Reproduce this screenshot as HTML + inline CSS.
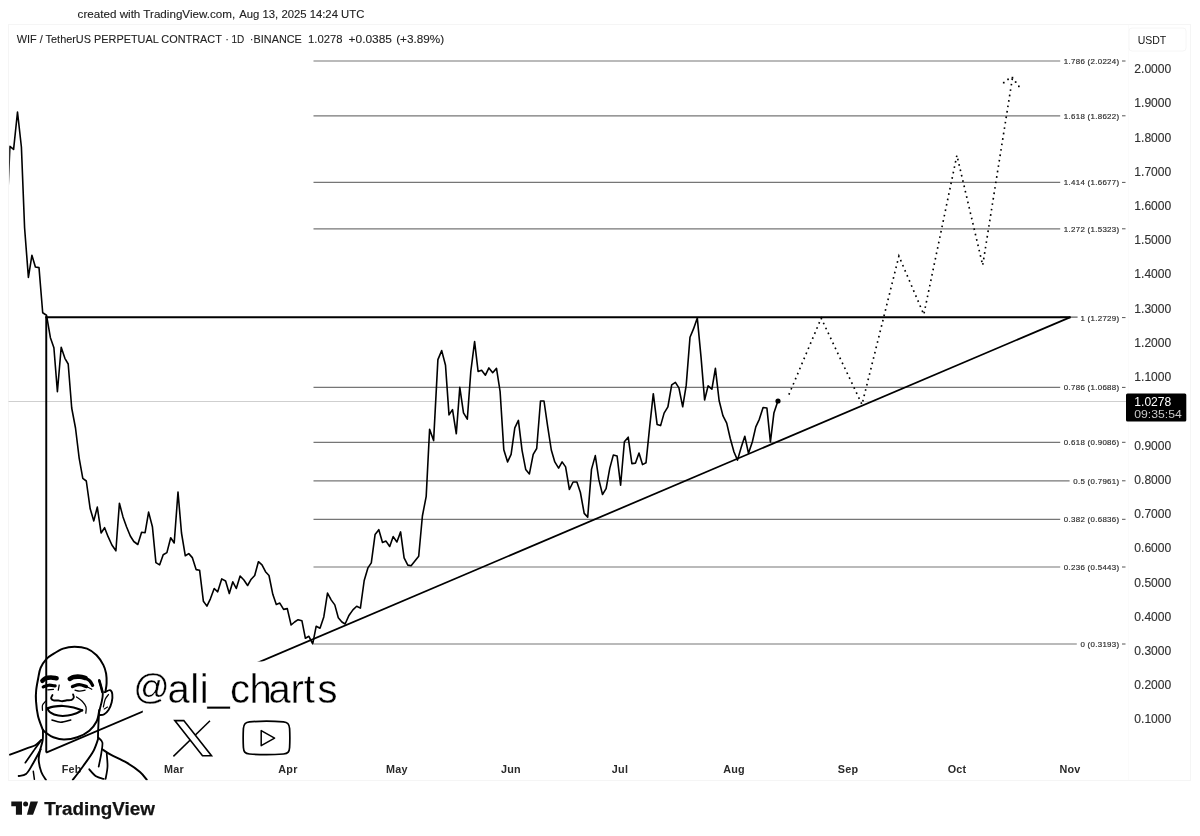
<!DOCTYPE html>
<html lang="en"><head><meta charset="utf-8"><title>WIF / TetherUS chart</title>
<style>
html,body{margin:0;padding:0;background:#fff;}
body{width:1200px;height:836px;overflow:hidden;font-family:"Liberation Sans",sans-serif;}
svg{display:block;}
text{font-family:"Liberation Sans",sans-serif;}
</style></head><body>
<svg width="1200" height="836" viewBox="0 0 1200 836">
<rect width="1200" height="836" fill="#fff"/>

<rect x="8.5" y="24.5" width="1182" height="756" fill="none" stroke="#f5f5f5" stroke-width="1"/>
<line x1="1128.5" y1="25" x2="1128.5" y2="780" stroke="#fbfbfb" stroke-width="1"/>
<text y="18.1" font-size="11.8" fill="#222" stroke="#222" stroke-width="0.12"><tspan x="77.6" textLength="157.6" lengthAdjust="spacingAndGlyphs">created with TradingView.com,</tspan><tspan x="239.3" textLength="125" lengthAdjust="spacingAndGlyphs">Aug 13, 2025 14:24 UTC</tspan></text>
<text x="16.8" y="43.2" font-size="11" fill="#222" stroke="#222" stroke-width="0.1" textLength="205.0" lengthAdjust="spacingAndGlyphs">WIF / TetherUS PERPETUAL CONTRACT</text>
<text x="225.2" y="43.2" font-size="11" fill="#222" stroke="#222" stroke-width="0.1">·</text>
<text x="231.4" y="43.2" font-size="11" fill="#222" stroke="#222" stroke-width="0.1" textLength="12.8" lengthAdjust="spacingAndGlyphs">1D</text>
<text x="249.7" y="43.2" font-size="11" fill="#222" stroke="#222" stroke-width="0.1">·</text>
<text x="253.6" y="43.2" font-size="11" fill="#222" stroke="#222" stroke-width="0.1" textLength="48.2" lengthAdjust="spacingAndGlyphs">BINANCE</text>
<text x="308.0" y="43.2" font-size="11" fill="#222" stroke="#222" stroke-width="0.1" textLength="34.4" lengthAdjust="spacingAndGlyphs">1.0278</text>
<text x="348.6" y="43.2" font-size="11" fill="#222" stroke="#222" stroke-width="0.1" textLength="43.4" lengthAdjust="spacingAndGlyphs">+0.0385</text>
<text x="396.2" y="43.2" font-size="11" fill="#222" stroke="#222" stroke-width="0.1" textLength="48.0" lengthAdjust="spacingAndGlyphs">(+3.89%)</text>
<rect x="1129" y="28" width="57" height="23" rx="3" fill="#fff" stroke="#f6f6f6"/>
<text x="1152" y="43.5" font-size="10.5" fill="#111" text-anchor="middle">USDT</text>
<line x1="8.5" y1="401.5" x2="1127" y2="401.5" stroke="#c6c6c6" stroke-width="0.85"/>
<line x1="313.5" y1="61.0" x2="1060.2" y2="61.0" stroke="#767676" stroke-width="1.2"/>
<line x1="313.5" y1="115.8" x2="1060.2" y2="115.8" stroke="#767676" stroke-width="1.2"/>
<line x1="313.5" y1="182.4" x2="1060.2" y2="182.4" stroke="#767676" stroke-width="1.2"/>
<line x1="313.5" y1="228.8" x2="1060.2" y2="228.8" stroke="#767676" stroke-width="1.2"/>
<line x1="313.5" y1="387.4" x2="1060.2" y2="387.4" stroke="#767676" stroke-width="1.2"/>
<line x1="313.5" y1="442.3" x2="1060.2" y2="442.3" stroke="#767676" stroke-width="1.2"/>
<line x1="313.5" y1="480.8" x2="1069.6" y2="480.8" stroke="#767676" stroke-width="1.2"/>
<line x1="313.5" y1="519.3" x2="1060.2" y2="519.3" stroke="#767676" stroke-width="1.2"/>
<line x1="313.5" y1="567.0" x2="1060.2" y2="567.0" stroke="#767676" stroke-width="1.2"/>
<line x1="313.5" y1="644.0" x2="1076.8" y2="644.0" stroke="#767676" stroke-width="1.2"/>
<text x="1119.4" y="64.0" font-size="7.9" fill="#2e2e2e" stroke="#2e2e2e" stroke-width="0.18" text-anchor="end" letter-spacing="0.3">1.786 (2.0224)</text>
<line x1="1122" y1="61.0" x2="1125.5" y2="61.0" stroke="#555" stroke-width="1"/>
<text x="1119.4" y="118.8" font-size="7.9" fill="#2e2e2e" stroke="#2e2e2e" stroke-width="0.18" text-anchor="end" letter-spacing="0.3">1.618 (1.8622)</text>
<line x1="1122" y1="115.8" x2="1125.5" y2="115.8" stroke="#555" stroke-width="1"/>
<text x="1119.4" y="185.4" font-size="7.9" fill="#2e2e2e" stroke="#2e2e2e" stroke-width="0.18" text-anchor="end" letter-spacing="0.3">1.414 (1.6677)</text>
<line x1="1122" y1="182.4" x2="1125.5" y2="182.4" stroke="#555" stroke-width="1"/>
<text x="1119.4" y="231.8" font-size="7.9" fill="#2e2e2e" stroke="#2e2e2e" stroke-width="0.18" text-anchor="end" letter-spacing="0.3">1.272 (1.5323)</text>
<line x1="1122" y1="228.8" x2="1125.5" y2="228.8" stroke="#555" stroke-width="1"/>
<text x="1119.4" y="320.6" font-size="7.9" fill="#2e2e2e" stroke="#2e2e2e" stroke-width="0.18" text-anchor="end" letter-spacing="0.3">1 (1.2729)</text>
<line x1="1122" y1="317.6" x2="1125.5" y2="317.6" stroke="#555" stroke-width="1"/>
<text x="1119.4" y="390.4" font-size="7.9" fill="#2e2e2e" stroke="#2e2e2e" stroke-width="0.18" text-anchor="end" letter-spacing="0.3">0.786 (1.0688)</text>
<line x1="1122" y1="387.4" x2="1125.5" y2="387.4" stroke="#555" stroke-width="1"/>
<text x="1119.4" y="445.3" font-size="7.9" fill="#2e2e2e" stroke="#2e2e2e" stroke-width="0.18" text-anchor="end" letter-spacing="0.3">0.618 (0.9086)</text>
<line x1="1122" y1="442.3" x2="1125.5" y2="442.3" stroke="#555" stroke-width="1"/>
<text x="1119.4" y="483.8" font-size="7.9" fill="#2e2e2e" stroke="#2e2e2e" stroke-width="0.18" text-anchor="end" letter-spacing="0.3">0.5 (0.7961)</text>
<line x1="1122" y1="480.8" x2="1125.5" y2="480.8" stroke="#555" stroke-width="1"/>
<text x="1119.4" y="522.3" font-size="7.9" fill="#2e2e2e" stroke="#2e2e2e" stroke-width="0.18" text-anchor="end" letter-spacing="0.3">0.382 (0.6836)</text>
<line x1="1122" y1="519.3" x2="1125.5" y2="519.3" stroke="#555" stroke-width="1"/>
<text x="1119.4" y="570.0" font-size="7.9" fill="#2e2e2e" stroke="#2e2e2e" stroke-width="0.18" text-anchor="end" letter-spacing="0.3">0.236 (0.5443)</text>
<line x1="1122" y1="567.0" x2="1125.5" y2="567.0" stroke="#555" stroke-width="1"/>
<text x="1119.4" y="647.0" font-size="7.9" fill="#2e2e2e" stroke="#2e2e2e" stroke-width="0.18" text-anchor="end" letter-spacing="0.3">0 (0.3193)</text>
<line x1="1122" y1="644.0" x2="1125.5" y2="644.0" stroke="#555" stroke-width="1"/>
<line x1="1060" y1="317.1" x2="1077.6" y2="317.1" stroke="#3a3a3a" stroke-width="1"/>
<text x="1134.3" y="723.4" font-size="12" fill="#303030" stroke="#303030" stroke-width="0.12" textLength="37" lengthAdjust="spacingAndGlyphs">0.1000</text>
<text x="1134.3" y="689.2" font-size="12" fill="#303030" stroke="#303030" stroke-width="0.12" textLength="37" lengthAdjust="spacingAndGlyphs">0.2000</text>
<text x="1134.3" y="654.9" font-size="12" fill="#303030" stroke="#303030" stroke-width="0.12" textLength="37" lengthAdjust="spacingAndGlyphs">0.3000</text>
<text x="1134.3" y="620.7" font-size="12" fill="#303030" stroke="#303030" stroke-width="0.12" textLength="37" lengthAdjust="spacingAndGlyphs">0.4000</text>
<text x="1134.3" y="586.5" font-size="12" fill="#303030" stroke="#303030" stroke-width="0.12" textLength="37" lengthAdjust="spacingAndGlyphs">0.5000</text>
<text x="1134.3" y="552.2" font-size="12" fill="#303030" stroke="#303030" stroke-width="0.12" textLength="37" lengthAdjust="spacingAndGlyphs">0.6000</text>
<text x="1134.3" y="518.0" font-size="12" fill="#303030" stroke="#303030" stroke-width="0.12" textLength="37" lengthAdjust="spacingAndGlyphs">0.7000</text>
<text x="1134.3" y="483.8" font-size="12" fill="#303030" stroke="#303030" stroke-width="0.12" textLength="37" lengthAdjust="spacingAndGlyphs">0.8000</text>
<text x="1134.3" y="449.6" font-size="12" fill="#303030" stroke="#303030" stroke-width="0.12" textLength="37" lengthAdjust="spacingAndGlyphs">0.9000</text>
<text x="1134.3" y="381.1" font-size="12" fill="#303030" stroke="#303030" stroke-width="0.12" textLength="37" lengthAdjust="spacingAndGlyphs">1.1000</text>
<text x="1134.3" y="346.9" font-size="12" fill="#303030" stroke="#303030" stroke-width="0.12" textLength="37" lengthAdjust="spacingAndGlyphs">1.2000</text>
<text x="1134.3" y="312.6" font-size="12" fill="#303030" stroke="#303030" stroke-width="0.12" textLength="37" lengthAdjust="spacingAndGlyphs">1.3000</text>
<text x="1134.3" y="278.4" font-size="12" fill="#303030" stroke="#303030" stroke-width="0.12" textLength="37" lengthAdjust="spacingAndGlyphs">1.4000</text>
<text x="1134.3" y="244.2" font-size="12" fill="#303030" stroke="#303030" stroke-width="0.12" textLength="37" lengthAdjust="spacingAndGlyphs">1.5000</text>
<text x="1134.3" y="209.9" font-size="12" fill="#303030" stroke="#303030" stroke-width="0.12" textLength="37" lengthAdjust="spacingAndGlyphs">1.6000</text>
<text x="1134.3" y="175.7" font-size="12" fill="#303030" stroke="#303030" stroke-width="0.12" textLength="37" lengthAdjust="spacingAndGlyphs">1.7000</text>
<text x="1134.3" y="141.5" font-size="12" fill="#303030" stroke="#303030" stroke-width="0.12" textLength="37" lengthAdjust="spacingAndGlyphs">1.8000</text>
<text x="1134.3" y="107.3" font-size="12" fill="#303030" stroke="#303030" stroke-width="0.12" textLength="37" lengthAdjust="spacingAndGlyphs">1.9000</text>
<text x="1134.3" y="73.0" font-size="12" fill="#303030" stroke="#303030" stroke-width="0.12" textLength="37" lengthAdjust="spacingAndGlyphs">2.0000</text>
<text x="71.7" y="773" font-size="10.8" font-weight="bold" fill="#2a2a2a" text-anchor="middle" letter-spacing="0.25">Feb</text>
<text x="174.0" y="773" font-size="10.8" font-weight="bold" fill="#2a2a2a" text-anchor="middle" letter-spacing="0.25">Mar</text>
<text x="288.0" y="773" font-size="10.8" font-weight="bold" fill="#2a2a2a" text-anchor="middle" letter-spacing="0.25">Apr</text>
<text x="397.0" y="773" font-size="10.8" font-weight="bold" fill="#2a2a2a" text-anchor="middle" letter-spacing="0.25">May</text>
<text x="511.0" y="773" font-size="10.8" font-weight="bold" fill="#2a2a2a" text-anchor="middle" letter-spacing="0.25">Jun</text>
<text x="620.0" y="773" font-size="10.8" font-weight="bold" fill="#2a2a2a" text-anchor="middle" letter-spacing="0.25">Jul</text>
<text x="734.0" y="773" font-size="10.8" font-weight="bold" fill="#2a2a2a" text-anchor="middle" letter-spacing="0.25">Aug</text>
<text x="848.0" y="773" font-size="10.8" font-weight="bold" fill="#2a2a2a" text-anchor="middle" letter-spacing="0.25">Sep</text>
<text x="957.0" y="773" font-size="10.8" font-weight="bold" fill="#2a2a2a" text-anchor="middle" letter-spacing="0.25">Oct</text>
<text x="1070.0" y="773" font-size="10.8" font-weight="bold" fill="#2a2a2a" text-anchor="middle" letter-spacing="0.25">Nov</text>
<path d="M46.25 752.6 L46.25 316.15" fill="none" stroke="#000" stroke-width="1.95"/>
<path d="M45.3 317.15 L1070.5 317.15" fill="none" stroke="#000" stroke-width="2"/>
<path d="M46.2 752.6 L1070.5 317.1" fill="none" stroke="#000" stroke-width="1.75"/>
<clipPath id="pclip"><rect x="9.2" y="25" width="1120" height="755"/></clipPath>
<path clip-path="url(#pclip)" d="M6.2 232.0 L9.9 146.4 L13.6 149.4 L17.5 112.0 L21.4 147.0 L24.6 228.0 L28.4 277.4 L31.9 255.3 L35.4 267.0 L39.0 267.6 L42.7 312.8 L46.5 315.2 L50.4 337.7 L53.9 347.7 L57.4 391.7 L61.2 347.2 L64.9 358.3 L68.2 364.0 L71.7 408.0 L75.5 428.0 L79.2 458.3 L82.8 478.4 L86.3 481.0 L90.2 508.8 L93.8 520.9 L97.3 507.1 L101.1 533.0 L104.6 527.7 L108.1 536.7 L111.9 545.0 L115.9 550.8 L119.4 503.3 L123.0 516.9 L126.5 526.7 L130.3 536.0 L133.8 541.5 L137.8 544.5 L141.6 532.2 L145.1 532.7 L148.6 512.1 L152.4 526.7 L155.9 562.6 L159.6 564.9 L163.2 554.8 L166.9 552.6 L170.7 537.7 L174.2 543.0 L178.0 492.0 L181.5 533.0 L185.3 555.8 L188.8 553.6 L192.3 557.6 L196.1 569.6 L199.6 570.2 L203.4 601.3 L206.9 606.1 L210.4 598.8 L214.2 588.5 L217.7 591.8 L221.7 578.9 L225.6 581.0 L229.3 593.6 L232.8 581.8 L236.3 588.5 L240.1 576.0 L243.9 580.0 L247.6 585.5 L251.2 579.2 L254.7 575.5 L258.4 561.7 L262.0 564.9 L265.5 571.7 L269.0 575.5 L272.8 594.3 L276.3 604.4 L279.8 603.1 L283.6 609.4 L287.3 608.6 L291.1 625.0 L294.6 622.0 L298.1 619.7 L301.9 620.7 L305.4 638.3 L308.9 636.3 L312.7 643.8 L316.2 626.2 L320.0 628.2 L323.8 616.9 L327.5 593.1 L331.3 600.1 L334.8 604.9 L338.3 617.7 L341.9 622.0 L345.1 624.0 L349.1 615.2 L352.9 609.9 L356.7 606.2 L360.4 608.1 L364.2 580.5 L367.9 567.9 L371.3 562.9 L375.1 534.4 L378.8 529.7 L382.5 542.5 L386.0 541.1 L389.7 546.5 L393.2 536.6 L396.9 542.0 L400.6 531.9 L404.1 557.9 L407.8 565.1 L411.1 565.8 L415.3 560.4 L418.7 556.2 L422.4 516.0 L426.2 496.3 L429.6 429.2 L433.6 440.6 L437.9 359.6 L441.7 350.6 L445.5 365.2 L449.0 414.9 L452.5 409.6 L456.3 433.8 L459.8 387.3 L463.5 412.9 L467.3 419.2 L470.8 371.5 L474.6 341.6 L478.1 371.5 L481.6 370.2 L485.4 375.2 L488.9 367.9 L492.7 372.7 L496.5 368.4 L500.1 391.5 L503.8 449.8 L507.6 461.9 L511.1 454.3 L514.8 427.9 L518.4 420.4 L522.1 450.6 L525.7 469.4 L529.4 473.9 L533.2 454.3 L536.7 448.5 L540.5 401.0 L544.0 401.0 L547.5 425.4 L551.3 450.0 L554.8 461.9 L558.6 468.1 L562.1 461.9 L565.6 466.9 L569.4 489.5 L573.1 482.0 L576.9 482.0 L580.4 492.5 L584.2 513.4 L587.7 517.1 L591.5 469.4 L595.3 455.6 L598.8 479.4 L602.5 494.5 L606.1 488.7 L609.8 468.1 L613.3 455.1 L617.1 456.1 L620.6 485.2 L624.4 441.8 L628.2 437.2 L631.9 463.6 L635.5 463.1 L639.0 453.1 L642.5 464.6 L646.0 462.8 L649.8 425.6 L653.3 393.7 L657.1 424.4 L660.6 425.6 L664.1 413.1 L667.9 406.8 L671.7 384.9 L675.4 382.4 L678.9 387.9 L682.7 406.8 L686.2 385.4 L690.0 337.2 L693.5 328.9 L697.3 318.1 L701.1 357.8 L704.6 400.0 L708.1 385.9 L711.9 389.2 L715.4 368.3 L719.1 400.5 L722.9 415.6 L726.7 423.1 L730.2 438.2 L734.0 452.0 L737.5 460.1 L741.3 447.0 L744.8 436.2 L748.5 453.3 L752.3 442.0 L755.8 426.9 L759.3 419.3 L763.1 407.5 L766.9 408.0 L770.4 442.0 L773.9 413.1 L777.9 401.0" fill="none" stroke="#000" stroke-width="1.6" stroke-linejoin="round" stroke-linecap="round"/>
<circle cx="778" cy="401" r="2.6" fill="#000"/>
<path d="M788.9 394.6 L821.2 318.2 L862.0 404.5 L898.9 256.1 L923.8 314.5 L956.9 155.3 L982.7 265.3 L1012.5 77.6" fill="none" stroke="#000" stroke-width="1.65" stroke-dasharray="1.65 3.85"/>
<rect x="1011.6" y="76.8" width="1.7" height="1.7" fill="#000"/>
<rect x="1007.2" y="78.5" width="1.7" height="1.7" fill="#000"/>
<rect x="1002.9" y="81.8" width="1.7" height="1.7" fill="#000"/>
<rect x="1014.8" y="81.2" width="1.7" height="1.7" fill="#000"/>
<rect x="1018.0" y="85.5" width="1.7" height="1.7" fill="#000"/>
<rect x="1126" y="393.5" width="60.3" height="28" rx="1.5" fill="#000"/>
<text x="1134.3" y="405.8" font-size="12" fill="#fff" textLength="37" lengthAdjust="spacingAndGlyphs">1.0278</text>
<text x="1134.3" y="418.3" font-size="11.6" fill="#c8c8c8" textLength="47.5" lengthAdjust="spacingAndGlyphs">09:35:54</text>
<rect x="142.8" y="661.5" width="200" height="99" fill="#fff"/>
<text font-size="40" fill="#000" stroke="#fff" stroke-width="0.4"><tspan font-size="35.5" stroke-width="0.3" x="133.5" y="698.8">@</tspan><tspan y="703.2 703.2 703.2 701 703.2 703.2 703.2 703.2 703.2 703.2" x="167.6 190.2 199.8 207.6 230 249.6 268.4 290.6 303.8 317.4">ali_charts</tspan></text>
<g stroke="#000" stroke-linejoin="miter"><path d="M210 720.8 L173.4 756.4" fill="none" stroke-width="1.5"/><path d="M174.8 720.6 L183.8 720.6 L211.5 755.8 L202.5 755.8 Z" fill="#fff" stroke-width="1.6"/></g>
<g fill="none" stroke="#000" stroke-linejoin="round"><path d="M249.5 721.9 C258 721.2 275 721.2 283.5 721.9 C288.3 722.3 289.3 724.5 289.6 728.5 C289.9 734 289.9 742 289.6 747.5 C289.3 751.5 288.3 753.6 283.5 754 C275 754.7 258 754.7 249.5 754 C244.7 753.6 243.7 751.5 243.4 747.5 C243.1 742 243.1 734 243.4 728.5 C243.7 724.5 244.7 722.3 249.5 721.9 Z" stroke-width="1.7"/><path d="M261.2 730.6 L261.2 745.7 L274.6 738.1 Z" stroke-width="1.5"/></g>
<clipPath id="avclip"><rect x="9" y="630" width="160" height="150.2"/></clipPath>
<g clip-path="url(#avclip)" fill="none" stroke="#000" stroke-linecap="round" stroke-linejoin="round">
<path d="M42.9 730.0 C42.1 727.7 39.1 720.8 38.0 716.0 C36.9 711.2 36.3 705.3 36.0 701.0 C35.7 696.7 35.8 693.8 36.2 690.0 C36.6 686.2 37.5 682.0 38.2 678.3 C38.9 674.6 39.2 671.0 40.6 667.8 C42.0 664.6 44.3 661.3 46.3 659.1 C48.3 656.9 49.7 656.1 52.5 654.4 C55.3 652.6 59.4 649.9 63.1 648.6 C66.8 647.3 70.5 646.7 74.5 646.7 C78.5 646.7 83.3 647.2 87.0 648.6 C90.7 650.0 93.9 652.6 96.6 655.3 C99.3 658.0 101.7 661.9 103.3 664.9 C104.9 667.9 105.5 670.5 106.1 673.5 C106.6 676.5 106.7 680.2 106.6 683.1 C106.5 686.0 105.8 689.4 105.6 690.7" stroke-width="2.00"/>
<path d="M104.7 692.2 C105.6 691.9 108.7 689.9 110.0 690.2 C111.3 690.5 112.0 692.1 112.3 694.1 C112.6 696.1 112.3 699.6 111.7 702.2 C111.1 704.8 109.8 707.9 108.5 709.9 C107.2 711.9 105.6 713.3 104.2 714.2 C102.8 715.1 100.6 715.0 99.9 715.1" stroke-width="1.88"/>
<path d="M108.5 694.5 C108.0 695.3 106.0 697.2 105.2 699.3 C104.4 701.4 103.7 705.7 103.4 707.0" stroke-width="1.25"/>
<path d="M104.2 708.9 C104.8 708.6 107.0 707.3 107.6 707.0" stroke-width="1.12"/>
<path d="M99.2 680.2 C99.5 681.5 100.7 685.6 101.3 687.8 C101.9 690.0 102.7 691.4 102.8 693.6 C102.9 695.8 102.4 698.3 101.8 701.2 C101.2 704.1 99.9 708.3 99.4 710.8 C98.9 713.3 99.1 713.3 98.9 716.0 C98.7 718.7 98.5 723.3 98.3 727.0 C98.1 730.7 98.0 736.2 98.0 738.0" stroke-width="1.88"/>
<path d="M99.3 680.6 C99.6 681.6 100.5 684.6 101.0 686.5 C101.5 688.4 102.2 691.1 102.4 692.0" stroke-width="2.62"/>
<path d="M42.9 730.0 C43.6 730.6 45.3 732.3 47.0 733.5 C48.7 734.7 50.5 736.3 53.3 737.3 C56.1 738.3 60.0 739.6 64.0 739.6 C68.0 739.6 73.1 738.8 77.3 737.3 C81.5 735.8 86.1 733.4 89.3 730.7 C92.5 728.0 95.0 724.8 96.7 721.3 C98.4 717.8 98.9 711.9 99.3 710.0" stroke-width="2.00"/>
<path d="M42.9 730.0 C42.9 731.7 43.2 736.5 42.7 740.0 C42.2 743.5 40.7 747.4 40.0 750.7 C39.3 754.0 38.5 756.5 38.7 760.0 C38.9 763.5 40.1 768.7 41.3 772.0 C42.5 775.3 45.2 778.7 46.0 780.0" stroke-width="1.88"/>
<path d="M10.0 754.7 C12.8 753.6 22.5 749.9 26.7 748.3 C30.9 746.7 32.9 746.7 35.3 745.3 C37.7 743.9 40.3 740.9 41.3 740.0" stroke-width="1.88"/>
<path d="M41.3 740.0 C40.0 741.9 36.0 747.5 33.3 751.3 C30.6 755.1 26.6 760.8 25.3 762.7" stroke-width="1.75"/>
<path d="M40.7 749.3 C39.2 752.0 34.5 761.2 32.0 765.3 C29.6 769.4 28.2 772.2 26.0 774.0 C23.8 775.8 19.9 775.7 18.7 776.0" stroke-width="1.88"/>
<path d="M33.3 771.3 C33.5 772.6 34.2 778.0 34.4 779.3" stroke-width="1.50"/>
<path d="M98.4 738.0 C97.6 740.2 95.9 746.5 93.3 751.3 C90.7 756.1 86.1 761.9 82.7 766.7 C79.3 771.5 74.4 777.8 72.7 780.0" stroke-width="1.88"/>
<path d="M98.7 738.0 C99.3 738.8 102.0 740.2 102.4 742.7 C102.8 745.2 101.9 749.3 101.3 753.3 C100.7 757.3 99.1 764.5 98.7 766.7" stroke-width="1.75"/>
<path d="M89.3 769.3 C90.4 770.5 93.6 774.7 96.0 776.3 C98.4 777.9 102.4 778.5 103.7 778.9" stroke-width="1.88"/>
<path d="M106.7 753.3 C106.8 755.5 107.7 762.4 107.5 766.7 C107.3 771.0 105.9 776.9 105.6 778.9" stroke-width="1.75"/>
<path d="M102.4 749.3 C103.8 750.2 106.7 752.5 110.7 754.7 C114.8 756.9 121.8 759.8 126.7 762.7 C131.6 765.6 136.7 769.2 140.0 772.0 C143.3 774.8 145.6 778.4 146.7 779.7" stroke-width="2.00"/>
<path d="M42.4 680.8 C42.9 680.4 44.1 678.8 45.5 678.2 C46.9 677.6 49.1 677.4 51.0 677.4 C52.9 677.4 55.7 678.1 56.6 678.2" stroke-width="4.50"/>
<path d="M69.8 678.8 C70.5 678.5 72.3 677.3 74.0 677.0 C75.7 676.7 78.1 676.6 80.0 676.8 C81.9 677.0 84.6 677.8 85.5 678.0" stroke-width="4.62"/>
<path d="M85.0 677.8 C85.8 678.3 88.5 679.5 89.8 680.8 C91.1 682.1 92.1 684.6 92.6 685.4" stroke-width="3.25"/>
<path d="M43.2 686.9 C44.1 686.6 46.7 685.4 48.7 685.2 C50.7 685.0 54.1 685.8 55.2 685.9" stroke-width="3.12"/>
<path d="M47.8 689.8 C48.8 689.7 52.5 689.4 53.5 689.3" stroke-width="1.25"/>
<path d="M59.2 685.0 C59.1 685.9 58.4 689.3 58.3 690.2" stroke-width="1.25"/>
<path d="M72.4 686.6 C73.6 686.3 77.0 684.7 79.3 684.7 C81.6 684.7 85.3 686.3 86.5 686.6" stroke-width="3.25"/>
<path d="M86.5 686.6 C87.4 687.0 90.9 688.8 91.8 689.3" stroke-width="1.12"/>
<path d="M75.0 690.2 C75.8 690.4 78.1 691.2 79.8 691.2 C81.5 691.2 84.2 690.4 85.1 690.2" stroke-width="1.25"/>
<path d="M52.5 695.0 C52.3 695.5 50.9 697.3 51.1 698.2 C51.3 699.1 52.3 699.9 53.5 700.3 C54.7 700.7 56.9 700.4 58.3 700.5 C59.7 700.6 60.7 701.2 62.1 701.2 C63.5 701.2 65.3 700.5 66.9 700.3 C68.5 700.1 70.6 700.3 71.7 699.8 C72.8 699.3 73.6 698.3 73.8 697.4 C74.0 696.5 73.2 695.0 73.1 694.5" stroke-width="1.88"/>
<path d="M76.5 696.9 C77.5 697.6 80.6 699.5 82.2 701.2 C83.8 702.9 85.4 705.0 86.0 707.0 C86.6 709.0 85.8 712.2 85.8 713.2" stroke-width="1.25"/>
<path d="M45.6 701.2 C45.1 701.9 43.0 703.6 42.5 705.1 C42.0 706.6 42.5 709.4 42.5 710.3" stroke-width="1.25"/>
<path d="M47.3 708.4 C48.3 708.1 50.9 707.1 53.5 706.7 C56.1 706.3 59.8 705.9 63.1 706.0 C66.5 706.1 70.4 706.8 73.6 707.5 C76.8 708.2 80.8 709.8 82.2 710.3" stroke-width="2.25"/>
<path d="M47.3 708.4 C47.8 709.1 48.8 711.5 50.6 712.7 C52.4 713.9 55.4 715.1 58.3 715.6 C61.2 716.1 64.8 716.0 67.8 715.6 C70.8 715.2 74.1 714.1 76.5 713.2 C78.9 712.3 81.2 710.8 82.2 710.3" stroke-width="2.00"/>
<path d="M52.0 720.0 C53.5 720.4 57.6 722.3 60.7 722.3 C63.8 722.3 69.0 720.4 70.7 720.0" stroke-width="1.62"/>
</g>
<g fill="#131313"><path d="M11.3 801.6 H22 V814.8 H15.9 V806.3 H11.3 Z"/><circle cx="25.6" cy="804.1" r="2.5"/><path d="M30.5 801.6 H38 L33 814.8 H26.9 Z"/></g>
<text x="44.3" y="814.8" font-size="18" font-weight="bold" fill="#131313" stroke="#131313" stroke-width="0.25" textLength="110.6" lengthAdjust="spacingAndGlyphs">TradingView</text>
</svg></body></html>
